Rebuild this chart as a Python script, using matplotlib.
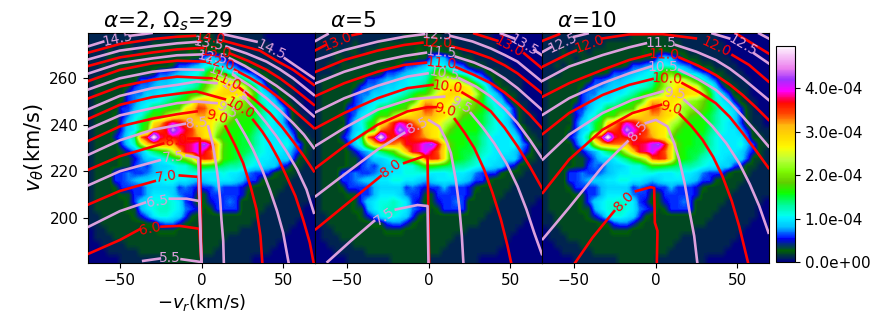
import numpy as np
import matplotlib
matplotlib.use('Agg')
import matplotlib.pyplot as plt

n = np.nan

# density, units of 1e-5, top row first
density = [
[1,1,1,1,1,1,1,1,1,1,1,1,1,1,2,2,2,2,2,2,1,1,1,1,1,1,1,1,0,0,0,0,0,0,0,0],
[1,1,1,1,1,1,2,1,1,1,2,2,2,2,2,2,2,2,2,2,2,2,1,1,1,1,1,1,1,0,0,0,0,0,0,0],
[1,1,1,2,1,2,2,1,2,2,2,2,2,2,2,2,3,2,3,3,2,2,2,1,1,1,1,1,1,0,0,0,0,0,0,0],
[1,1,1,2,2,1,2,2,2,2,2,2,2,2,2,2,3,3,7,9,8,5,3,2,2,1,1,1,1,1,0,0,0,0,0,0],
[1,1,2,1,2,2,2,2,2,2,2,2,2,3,6,6,7,8,10,11,10,8,7,6,3,2,2,1,1,1,1,0,0,0,0,0],
[1,1,1,2,2,2,2,2,2,2,3,6,6,7,8,9,10,11,14,19,19,15,11,9,8,6,5,2,2,1,1,1,0,0,0,0],
[1,2,2,2,2,2,2,2,6,6,7,8,8,9,10,11,11,12,16,22,25,25,24,20,15,11,8,6,2,2,1,1,1,0,0,0],
[1,2,2,2,2,2,3,6,7,7,8,9,9,10,10,11,12,14,18,22,25,28,29,28,26,19,14,9,5,2,2,1,1,0,0,0],
[1,2,2,2,2,2,6,7,7,9,9,10,10,11,13,15,17,17,21,26,28,29,29,28,28,24,17,11,9,6,2,2,1,0,0,0],
[1,2,2,2,2,3,6,7,9,10,10,11,13,15,16,17,24,31,31,27,28,27,24,22,21,19,16,12,10,9,5,2,1,1,0,0],
[1,2,2,2,2,6,6,8,10,11,15,15,16,17,18,27,29,35,34,30,27,24,22,21,20,18,16,14,11,10,9,5,2,1,0,0],
[1,2,2,2,3,5,7,10,11,15,17,17,22,25,28,29,31,32,32,29,28,25,22,18,17,16,15,13,11,11,9,6,2,1,1,0],
[1,2,2,2,2,6,9,11,15,17,28,31,36,39,37,34,31,29,28,27,24,22,18,16,16,16,15,13,11,10,9,6,2,1,1,0],
[1,2,2,2,3,6,9,10,15,19,33,35,37,45,40,37,35,30,28,27,22,18,16,16,16,16,14,12,11,10,10,8,5,2,1,1],
[1,2,2,2,5,7,10,14,34,38,50,38,36,37,37,36,34,32,28,27,19,16,16,16,15,15,13,11,10,10,10,10,7,2,2,1],
[1,2,2,2,2,6,9,12,22,30,32,33,33,31,37,37,38,41,43,37,29,18,16,16,15,15,13,11,10,10,10,11,8,6,2,2],
[1,2,2,2,2,3,5,7,8,11,14,16,18,24,30,37,38,41,37,34,28,17,16,15,15,14,12,11,10,10,10,9,7,5,2,1],
[1,2,2,2,2,3,3,5,7,9,9,10,12,14,17,20,24,34,36,35,28,17,16,15,14,12,11,10,10,9,9,9,6,2,2,1],
[1,2,2,2,2,3,3,6,7,6,8,9,9,10,11,11,14,17,17,16,15,14,13,13,12,11,10,10,9,9,6,5,2,2,1,1],
[1,2,2,2,6,6,7,6,6,7,8,9,10,10,11,11,11,11,10,10,10,11,10,10,9,7,6,6,6,3,2,2,2,1,1,1],
[1,2,2,2,6,6,7,8,9,9,10,10,11,11,10,10,9,8,9,10,10,10,10,9,8,6,6,3,2,2,2,2,1,1,1,1],
[1,2,2,2,3,6,6,6,6,8,9,9,9,9,6,7,6,5,6,6,8,6,6,6,5,3,2,2,2,2,2,1,1,1,1,1],
[1,2,2,2,2,3,3,6,6,8,10,10,10,9,7,6,6,3,3,6,6,6,6,6,5,2,2,2,2,2,1,1,1,1,1,1],
[1,2,2,2,2,2,3,6,9,10,11,11,12,11,10,6,5,2,3,5,6,6,7,6,2,2,2,2,2,1,1,1,1,1,1,0],
[1,2,2,2,2,2,3,3,8,10,11,12,12,11,10,7,6,5,2,3,6,6,6,6,2,2,2,2,1,1,1,1,1,1,0,0],
[1,1,2,2,2,2,2,3,5,7,10,11,11,10,9,6,3,2,2,2,2,2,2,2,2,2,2,1,1,1,1,1,1,1,0,0],
[1,1,2,2,2,2,2,2,2,3,3,6,7,7,5,3,2,2,2,2,2,2,2,2,2,2,1,1,1,1,1,1,1,0,0,0],
[0,1,1,2,2,2,2,2,2,2,2,3,3,3,2,2,2,2,2,2,2,2,2,2,1,1,1,1,1,1,1,1,0,0,0,0],
[0,1,1,1,2,2,2,2,2,2,2,2,2,2,2,2,2,2,2,2,2,2,1,1,1,1,1,1,1,1,1,0,0,0,0,0],
[0,0,1,1,1,1,2,2,2,2,2,2,2,2,2,2,2,2,2,2,2,1,1,1,1,1,1,1,1,1,0,0,0,0,0,0],
[0,0,0,1,1,1,1,1,2,2,2,2,2,2,2,2,2,2,2,2,1,1,1,1,1,1,1,1,1,0,0,0,0,0,0,0],
[0,0,0,0,0,1,1,1,1,1,1,1,2,2,2,2,2,2,1,1,1,1,1,1,1,1,0,0,0,0,0,0,0,0,0,0],
]

titles = [r'$\alpha$=2, $\Omega_s$=29', r'$\alpha$=5', r'$\alpha$=10']
cbar_ticks = [0, 1e-4, 2e-4, 3e-4, 4e-4]

# contours as read: level -> (vr, vtheta), nan where the label breaks the line
p1_lines = {
6.0: ([-69,-50,-37.8,n,-24.5,-13.3,-1.4,0],[185,190.8,195.4,n,196.5,196.8,195.6,180.5]),
7.0: ([-69,-50,-28.6,n,-13.3,-2,0],[206,211.7,215.9,n,218.3,217.7,180.5]),
8.0: ([-69,-50,-23.5,n,-8.2,-1,0],[220.8,226.5,231.9,n,234,234,180.5]),
9.0: ([-69,-50,-30,-15,-3,n,14.7,20.4,25.5,30,33.7,36.1,37.3],[233.1,239.2,242.5,244.4,245.6,n,239.2,231.4,223.6,213.7,203.8,192.5,180.5]),
10.0: ([-69,-50,-30,-15,-3,14.3,n,31.6,37.1,41.8,47.3,52,57.5,62.2,66.3,68.8],[242.5,248.4,251.7,253.1,254.1,250.8,n,242,237.1,232.1,225.1,218,209.5,199.6,189.7,180.5]),
11.0: ([-69,-50,-30,-15,6.1,n,23.5,33.1,41.8,49.4,56.1,62.7,68.8],[251.2,256.2,259,260.4,259.7,n,255.5,250.2,244.9,238.9,232.8,226.5,220.1]),
12.0: ([-69,-50,-30,-15,2,n,20.4,30,39.8,48,56.1,62.7,68.8],[258.6,263.3,266.1,267.2,266.8,n,263.3,259.7,255.5,251.1,246.3,242.3,238.5]),
13.0: ([-69,-50,-30,-15,1,n,17.3,28.6,39.8,48,56.1,68.8],[265,268.6,270.7,272,272.7,n,270.3,267.1,263.3,259.7,255.5,248.4]),
14.0: ([-69,-50,-30,-15,-4,n,13.3,24.5,35.7,45.9,56.1,68.8],[270.7,274.3,276.4,277.4,277.8,n,275.7,273.6,271.5,267.2,263.3,256.9]),
5.5: ([-35.7,-25.5,n,-12.2,-1,0],[181.9,182.9,n,182.6,181.5,180.6]),
6.5: ([-69,-50,-34.7,n,-19.4,-9.2,-1.4,0],[196.5,203.1,206.7,n,208.4,208.4,207.4,180.5]),
7.5: ([-69,-50,-25.5,n,-9.2,-2,0],[214.2,220.1,224.8,n,226.8,225.8,180.5]),
8.5: ([-69,-50,-29.6,-10.2,n,4.1,5.7,7.1,8.8,10.2,11.4,12.2,13.3,13.7],[227.2,233.3,237.8,240.3,n,239.2,235,230.7,223.6,216.6,208.1,199.6,190.4,180.5]),
9.5: ([-69,-50,-30,-15,-3,9.2,n,21.4,26.9,31.6,37.1,41.8,46.3,50,53.5],[238.1,243.9,247,249.1,249.8,249.1,n,242,235.4,229.3,220.8,212.3,203.1,193.9,180.5]),
10.5: ([-69,-50,-30,-15,-3,9.2,n,25.5,33.1,39.8,45.9,52,58.6,64.3,68.8],[246.6,252.2,255.5,256.9,258.3,257.6,n,251.9,246.3,240.6,235,228.6,220.8,212.3,202.4]),
11.5: ([-69,-50,-30,-15,1,n,19.4,29.6,39.8,48,56.1,62.7,68.8],[255,259.7,262.5,263.5,263.3,n,261.1,256.6,251.2,246,240.6,235.7,230]),
12.5: ([-69,-50,-30,-15,1,n,17.3,26.5,35.7,45.9,56.1,68.8],[261.8,266.1,268.2,269.5,269.9,n,268.2,265,261.1,256.5,251.2,243.5]),
13.5: ([-69,-50,-30,-15,-1,n,15.3,27.6,39.8,48,56.1,68.8],[267.8,271.5,273.4,274.6,275.3,n,273.2,270.3,266.8,263.5,259.7,252.6]),
14.5: ([-69,-60.2,n,-43.9,-35.7,-30.6,n,13.3,33.7,n,51,68.8],[273.4,275.3,n,277.8,278.5,279,n,278.5,275.3,n,268.2,259.7]),
}
p1_labels = [(5.5,-19.4,183.2,0),(6.0,-31.6,195.6,12),(6.5,-27.1,207.4,8),(7.0,-21.4,217.7,8),
(7.5,-17.3,226.2,5),(8.0,-15.3,233.1,8),(8.5,-3.1,240.6,5),(9.0,9.2,243.2,-15),(9.5,15.7,246,-30),
(10.0,23.5,247,-30),(10.5,19.8,254.5,-35),(11.0,15.3,258.6,-25),(11.5,13.3,261.6,-20),(12.0,11.2,266.1,-15),
(12.5,6.7,268.6,-10),(13.0,9.2,270.7,-5),(13.5,4.1,274.6,-10),(14.0,5.1,276.7,-5),(14.5,-51.6,276.7,12),(14.5,42.9,271.7,-25)]

p2_lines = {
8.0: ([-69,-51.6,-29.2,n,-14.9,-2.7,-0.6,0.4],[195.4,205.3,218,n,223.6,226.5,226.2,180.5]),
9.0: ([-69,-51.6,-31.2,-12.9,-0.6,4.5,n,16.1,22.2,28,34.1,39.2,44.3,48.4,50.8],[221.5,230.7,239.9,245.6,247.4,247.4,n,242.3,236.4,230,220.8,210.9,199.6,188.3,180.5]),
10.0: ([-69,-51.6,-31.2,-12.9,2.4,n,20.8,30,38.2,46.7,54.5,62,69.4],[238.5,244.9,251.2,255.5,256.9,n,253.6,249.8,245.6,238.5,230.7,222.2,213]),
11.0: ([-69,-51.6,-31.2,-14.9,-1.6,n,17.1,28,38.2,46.7,54.5,62,69.4],[252.2,257.6,262.5,265.4,266.4,n,264.4,261.1,257.6,253.6,249.1,244.2,238.5]),
12.0: ([-69,-51.6,-31.2,-14.9,-3.7,n,14.7,26.9,38.2,46.7,54.5,69.4],[262.5,267.5,271.5,273.9,274.9,n,273.2,271,268.2,265.2,261.8,253.4]),
13.0: ([-69,-62.9,n,-46.5,-41.4,n,28,42.2,n,58.6,69.4],[271.7,273.9,n,278.1,278.8,n,278.8,275.7,n,270.3,264]),
7.5: ([-61.8,-47.6,-33.3,n,-20,-6.7,-0.6,0],[181.5,190.4,198.9,n,203.8,205.7,205.3,180.5]),
8.5: ([-69,-51.6,-31.2,-14.9,n,0.4,6.5,10.2,13.7,16.7,18.8,20.4,21.4],[209.5,218.7,229.3,236.4,n,241.8,239.2,234.3,227.9,216.6,205.3,192.6,180.5]),
9.5: ([-69,-51.6,-31.2,-10.8,9.6,n,25.9,33.5,40.2,47.8,54.5,60,64.7,69.4],[231,238.5,246.3,250.8,251.9,n,244.9,238.5,232.1,223.4,213.7,203.8,193.9,184.8]),
10.5: ([-69,-51.6,-31.2,-12.9,-0.6,n,18.8,29,38.2,46.7,54.5,62,69.4],[245.3,251.2,256.5,260.4,261.8,n,259.7,256.2,251.9,246.6,240.6,233.5,225.8]),
11.5: ([-69,-51.6,-31.2,-14.9,-1.6,n,16.7,28,38.2,46.7,54.5,69.4],[257.6,262.5,266.8,269.2,270.6,n,268.9,266.4,263.3,259.6,255.5,246.3]),
12.5: ([-69,-51.6,-31.2,-14.9,-2.7,n,13.7,26.9,38.2,46.7,54.5,69.4],[267.5,271.7,275.3,277.4,278.5,n,277.7,275.4,272.4,269.6,266.8,258.3]),
13.5: ([-69,-61.8,n,44.3,52.4,n,64.7,69.4],[275.7,278.5,n,278.8,276.7,n,271.7,269.6]),
}
p2_labels = [(7.5,-27.1,201,35),(8.0,-23.1,221.2,35),(8.5,-6.7,239.5,25),(9.0,10,246.3,-15),(9.5,19.8,248.4,-30),
(10.0,11.6,256.2,-7),(10.5,9.6,261.8,-10),(11.0,7.6,266.1,-5),(11.5,7.6,270.6,-5),(12.0,5.5,274.9,-3),
(12.5,5.5,278.1,-3),(13.0,-55.7,275.3,22),(13.0,49.4,273.2,-28),(13.5,58.6,273.9,-30)]

p3_lines = {
8.0: ([-49.8,-38.6,-25.3,n,-12,-2.9,-0.8,-0.4,1.2,0.8],[180.5,191.8,203.1,n,211.6,213.3,213,198.2,194.7,180.5]),
9.0: ([-69,-52.9,-32.4,-14.1,3.3,n,14.9,22.2,28.8,35.3,41,46.7,51.2,56.9],[210.9,225.1,237.8,244.9,248.4,n,244.4,239.2,233.5,226.2,218,207.4,196.8,180.5]),
10.0: ([-69,-52.9,-32.4,-16.1,-1.8,n,16.5,27.1,36.9,45.5,53.3,61.4,69.2],[236,244.9,252.6,256.9,259.4,n,257.6,253.6,249.1,243.2,236.4,229,221.5]),
11.0: ([-69,-52.9,-32.4,-16.1,-2.9,n,14.5,26.1,36.9,45.5,53.3,61.4,69.2],[251.9,257.6,263.3,267.5,269.9,n,268.6,265.1,261.1,257,252.6,247.4,242]),
12.0: ([-69,-52.9,-48.8,n,-32.4,-16.1,4.3,24.7,n,47.1,57.3,69.2],[264.7,270.3,271.5,n,276.7,278.4,278.5,276.7,n,269.6,265.4,258.3]),
13.0: ([-69,-59,n,49.2,69.2],[275.7,278.5,n,278.8,270.3]),
8.5: ([-69,-52.9,-32.4,-17.1,n,-5.9,0.2,7.3,11.4,14.5,18,20.6,23.7,25.7],[191.2,204.6,222.2,232.8,n,240.6,242,239.2,232.1,225.1,214.5,203.8,192.5,180.5]),
9.5: ([-69,-52.9,-32.4,-14.1,4.3,n,17.6,26.7,34.9,43.5,51.2,57.8,63.5,69.2],[225.1,235.7,244.9,250.5,254.1,n,250.5,244.9,239.2,231.9,223.6,214.5,205.3,193.9]),
10.5: ([-69,-52.9,-32.4,-16.1,-2.9,n,14.5,26.1,36.9,45.5,53.3,61.4,69.2],[244.2,251.2,257.6,261.8,264.7,n,263.3,259.3,254.8,249.4,243.5,237.1,230.7]),
11.5: ([-69,-52.9,-32.4,-16.1,-5.9,n,12.4,25.1,36.9,45.5,53.3,69.2],[258.7,264.7,269.6,272.9,274.6,n,273.9,271,267.5,263.8,259.7,250.5]),
12.5: ([-69,-64.1,n,-49.8,-41.6,n,34.9,45.1,n,60.4,69.2],[271,272.9,n,277.4,278.8,n,278.8,276.7,n,270.3,266.1]),
13.5: ([63.5,69.2],[278.8,276.7]),
}
p3_labels = [(8.0,-19.2,207.1,45),(8.5,-11,237.1,50),(9.0,9.4,247,-15),(9.5,11.4,253.1,-8),(10.0,7.3,259.3,-3),
(10.5,4.3,264.7,0),(11.0,5.3,269.9,-2),(11.5,3.3,274.9,0),(12.0,-40.6,274.3,20),(12.0,36.9,273.2,-25),
(12.5,-56.9,274.6,25),(12.5,53.3,273.9,-30)]

all_lines = [p1_lines, p2_lines, p3_lines]
all_labels = [p1_labels, p2_labels, p3_labels]

W, H = 883.0, 325.0
fig = plt.figure(figsize=(W/100, H/100), dpi=100)
lefts = [88, 315, 542]
rho = np.array(density)*1e-5

for i in range(3):
    ax = fig.add_axes([lefts[i]/W, (H-263)/H, 227/W, 230/H])
    im = ax.imshow(rho, extent=[-70, 70, 181, 279], aspect='auto', cmap='gist_ncar',
                   vmin=0, vmax=4.97e-4, interpolation='bilinear')
    for level, (xs, ys) in all_lines[i].items():
        col = 'red' if level == int(level) else 'plum'
        ax.plot(xs, ys, color=col, lw=1.9, zorder=3 if col == 'red' else 4)
    for level, x, y, rot in all_labels[i]:
        col = 'red' if level == int(level) else 'plum'
        ax.text(x, y, '%.1f' % level, color=col, fontsize=10, rotation=rot, ha='center', va='center',
                rotation_mode='anchor', clip_on=True, zorder=5)
    ax.set_xlim(-69.5, 69.5)
    ax.set_ylim(181, 279)
    ax.set_xticks([-50, 0, 50])
    ax.tick_params(labelsize=11)
    if i == 0:
        ax.set_yticks([200, 220, 240, 260])
        ax.set_ylabel(r'$v_{\theta}$(km/s)', fontsize=15, labelpad=2)
        ax.set_xlabel(r'$-v_r$(km/s)', fontsize=13, labelpad=3)
    else:
        ax.set_yticks([])
    ax.text(0.066, 1.026, titles[i], transform=ax.transAxes, fontsize=15.5, ha='left', va='baseline')

cax = fig.add_axes([776/W, (H-262)/H, 19/W, 216/H])
cb = fig.colorbar(im, cax=cax, ticks=cbar_ticks, format='%.1e')
cb.ax.tick_params(labelsize=11)

fig.savefig('out.png', dpi=100)
